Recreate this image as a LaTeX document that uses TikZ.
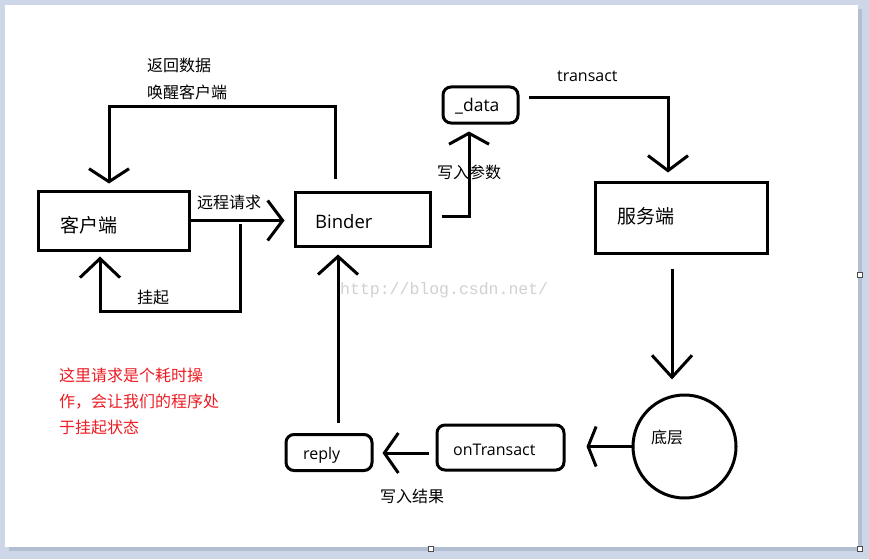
\documentclass[tikz,border=0pt]{standalone}
\usepackage{fontspec}
\setmainfont{Open Sans}
\newfontfamily\cjk{Noto Sans CJK SC}
\newfontfamily\wmfont{Liberation Mono}
\usepackage{xcolor}
\usetikzlibrary{arrows.meta}
\definecolor{paintbg}{RGB}{206,215,231}
\definecolor{paintshadow}{RGB}{178,190,210}
\definecolor{paintred}{RGB}{237,28,36}
\tikzset{
  box/.style={draw, line width=3pt, inner sep=0pt},
  rbox/.style={box, rounded corners=8pt},
  arr/.style={line width=3pt, -{Straight Barb[length=#1, width=40pt]}},
  arr/.default=15pt,
  zh/.style={font=\cjk\fontsize{16}{19}\selectfont, inner sep=0pt, anchor=west},
  zhbig/.style={font=\cjk\fontsize{19}{22}\selectfont, inner sep=0pt, anchor=west},
  en/.style={font=\fontsize{16}{19}\selectfont, inner sep=0pt, anchor=west},
}
\begin{document}
\begin{tikzpicture}[x=1pt, y=-1pt]
\useasboundingbox (0,0) rectangle (869,559);
% paint window
\fill[paintbg] (0,0) rectangle (869,559);
\fill[paintshadow] (9,9) rectangle (862,551);
\fill[white] (5,5) rectangle (858,547);
\foreach \hx/\hy in {860/275, 431/549, 860/549}
  \draw[black!70, fill=white, line width=0.8pt] (\hx-2.5,\hy-2.5) rectangle ++(5,5);

% boxes
\node[box, minimum width=151pt, minimum height=59pt] (client) at (113.5,220.5) {};
\node[box, minimum width=135pt, minimum height=54pt] (binder) at (362.5,219) {};
\node[rbox, minimum width=75pt, minimum height=36pt] (data) at (480.5,105) {};
\node[box, minimum width=172pt, minimum height=71pt] (server) at (681,217.5) {};
\node[draw, circle, line width=3pt, minimum size=103pt] (low) at (684.5,446.5) {};
\node[rbox, minimum width=127pt, minimum height=45pt] (ontr) at (500.5,447.5) {};
\node[rbox, minimum width=86pt, minimum height=36pt] (reply) at (329,452.5) {};

% texts
\node[zhbig] (clientT) at (60,225) {客户端};
\node[en, font=\fontsize{18.5}{21}\selectfont] (binderT) at (315,222) {Binder};
\node[en, font=\fontsize{17.5}{21}\selectfont] (dataT) at (455,106) {\_data};
\node[zhbig] (serverT) at (617,216) {服务端};
\node[zh] (lowT) at (651,437) {底层};
\node[en] (ontrT) at (453,450) {onTransact};
\node[en] (replyT) at (303,455) {reply};

% connectors
\draw[arr=13pt, shorten <=12pt, shorten >=6pt] ([xshift=-27.5pt]binder.north) -- ++(0,-84) -| ([xshift=-4.5pt]client.north);
\draw[arr=15pt, shorten >=9pt] (client.east) -- (client.east -| binder.west);
\coordinate (hang) at (240,224);
\draw[arr=19pt, shorten >=5pt] (hang) -- ++(0,87) -| ([xshift=-13.5pt]client.south);
\draw[arr=11pt, shorten <=10pt, shorten >=7pt] ([yshift=3pt]binder.east) -| ([xshift=-11.5pt]data.south);
\draw[arr=15pt, shorten <=9pt, shorten >=8pt] ([yshift=7pt]data.east) -| ([xshift=-13pt]server.north);
\draw[arr=22pt, shorten <=14pt, shorten >=14pt] ([xshift=-9pt]server.south) -- ([xshift=-9pt]server.south |- low.north);
\draw[arr=8pt, shorten >=21pt] (low.west) -- (low.west -| ontr.east);
\draw[arr=14pt, shorten <=7pt, shorten >=9pt] ([yshift=-5.5pt]ontr.west) -- ([yshift=-5.5pt]ontr.west -| reply.east);
\draw[arr=18pt, shorten <=10pt, shorten >=7pt] ([xshift=9pt]reply.north) -- ([xshift=9pt]reply.north |- binder.south);

% labels
\node[zh] (backL) at (147,65) {返回数据};
\node[zh] (wakeL) at (147,92) {唤醒客户端};
\node[zh] (callL) at (197,202) {远程请求};
\node[zh] (hangL) at (137,297) {挂起};
\node[zh] (argL) at (437,172) {写入参数};
\node[en] (transL) at (557,76) {transact};
\node[zh] (resL) at (380,496) {写入结果};
\node[zh, text=paintred, align=left, font=\cjk\fontsize{16}{26}\selectfont] (noteL) at (59,401)
  {这里请求是个耗时操\\作，会让我们的程序处\\于挂起状态};

% watermark
\node[inner sep=0pt, anchor=west, text=black!18, font=\wmfont\fontsize{16.5}{19}\selectfont] (mark) at (340,290) {http://blog.csdn.net/};
\end{tikzpicture}
\end{document}
